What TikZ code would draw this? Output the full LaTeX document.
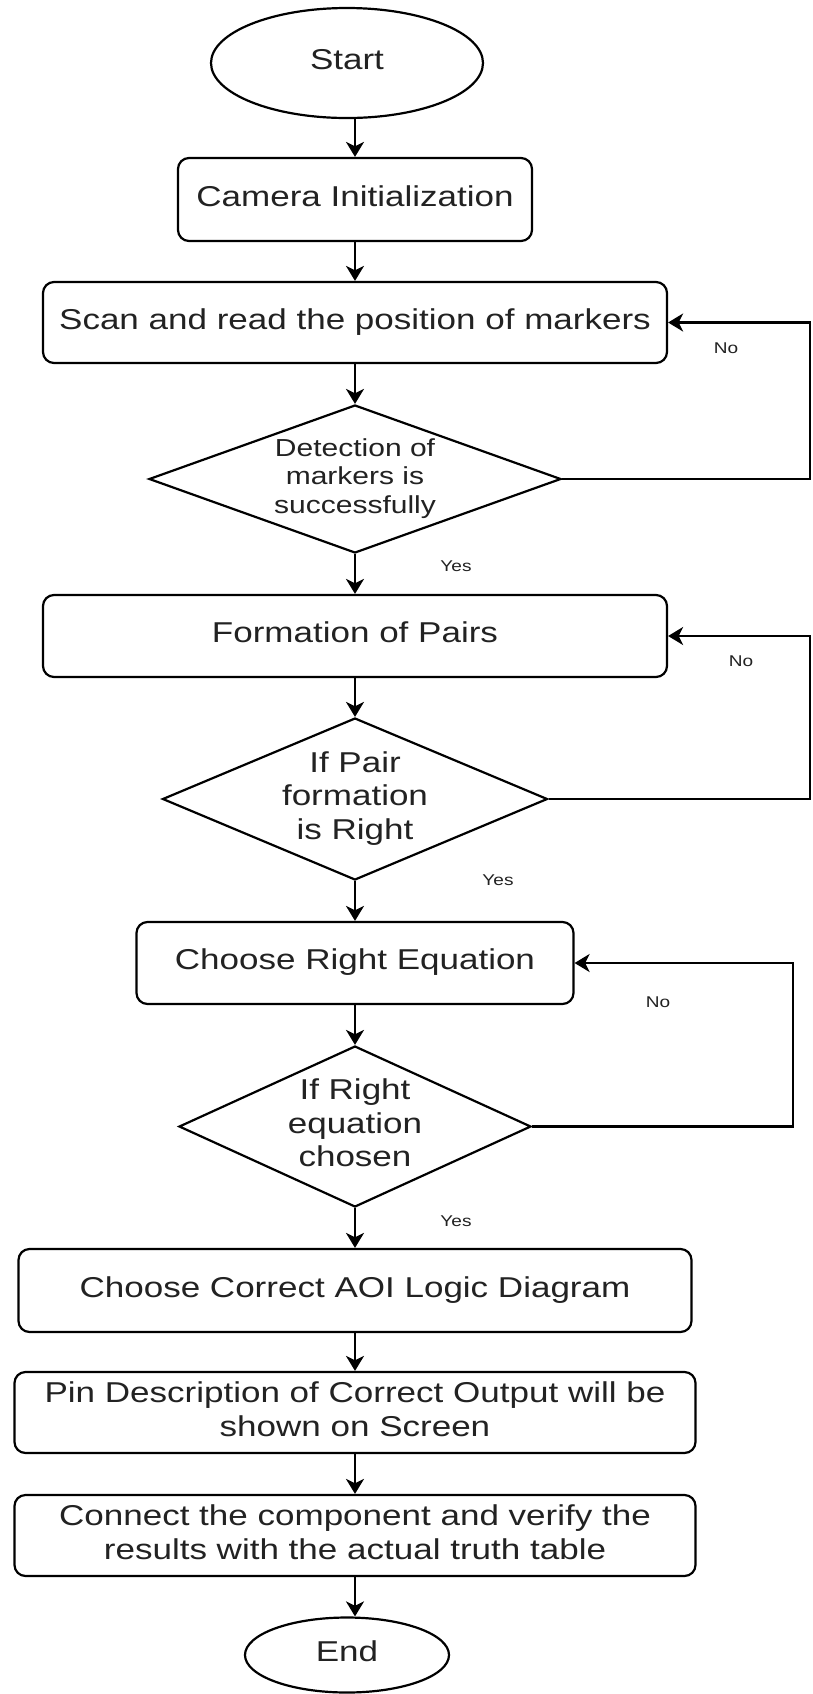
\documentclass[tikz,border=0pt]{standalone}
\usepackage{fontspec}
\setmainfont{Liberation Sans}
\usepackage{graphicx}
\usetikzlibrary{shapes.geometric,arrows.meta}

\definecolor{ink}{RGB}{34,34,34}

% text is set slightly widened, as in the flowchart's own drawing
\newcommand{\wtext}[1]{\scalebox{1.22}[1]{\begin{tabular}{@{}c@{}}#1\end{tabular}}}

\begin{document}
\begin{tikzpicture}[x=0.5pt,y=-0.5pt,
  line width=1.1pt,
  base/.style={draw=black, line width=1.1pt, inner sep=0pt, text=ink},
  bigfont/.style={font=\fontsize{14.35}{17}\selectfont},
  term/.style 2 args={base, bigfont, ellipse, minimum width=#1, minimum height=#2},
  procbox/.style 2 args={base, bigfont, rectangle, rounded corners=5.5pt,
    minimum width=#1, minimum height=#2},
  decision/.style 2 args={base, diamond, minimum width=#1, minimum height=#2},
  dtext/.style={inner sep=0pt, text=ink},
  lbl/.style={inner sep=0pt, text=ink, font=\fontsize{7.8}{9}\selectfont},
  arr/.style={draw=black, line width=1.1pt,
    -{Stealth[length=7.5pt, width=9pt, inset=2.2pt]}}
]
\fill[white] (0,0) rectangle (813,1694);
\useasboundingbox (0,0) rectangle (813,1694);

% main column
\node[term={136pt}{55pt}] (start) at (347,63) {\wtext{Start}};
\node[procbox={177pt}{41.5pt}] (cam) at (355,199.5) {\wtext{Camera Initialization}};
\node[procbox={312pt}{40.5pt}] (scan) at (355,322.5) {\wtext{Scan and read the position of markers}};
\node[decision={206pt}{74pt}] (d1) at (355,479) {};
\node[dtext, font=\fontsize{12.3}{14.25}\selectfont] (d1t) at (d1) {\wtext{Detection of\\markers is\\successfully}};
\node[procbox={312pt}{41pt}] (pairs) at (355,636) {\wtext{Formation of Pairs}};
\node[decision={192.5pt}{81pt}] (d2) at (355,799) {};
\node[dtext, font=\fontsize{14.35}{16.75}\selectfont] (d2t) at (d2) {\wtext{If Pair\\formation\\is Right}};
\node[procbox={218.5pt}{41pt}] (eq) at (355,963) {\wtext{Choose Right Equation}};
\node[decision={176pt}{80.5pt}] (d3) at (355,1126.5) {};
\node[dtext, font=\fontsize{14.35}{16.75}\selectfont] (d3t) at (d3) {\wtext{If Right\\equation\\chosen}};
\node[procbox={336.5pt}{41.5pt}] (aoi) at (355,1290.5) {\wtext{Choose Correct AOI Logic Diagram}};
\node[procbox={340.5pt}{40.5pt}] (pin) at (355,1412.5) {\wtext{Pin Description of Correct Output will be\\shown on Screen}};
\node[procbox={340.5pt}{40.5pt}] (conn) at (355,1535.5) {\wtext{Connect the component and verify the\\results with the actual truth table}};
\node[term={102pt}{37.5pt}] (end) at (347,1655) {\wtext{End}};

% forward flow
\draw[arr] (start.south -| cam.north) -- (cam.north);
\draw[arr] (cam) -- (scan);
\draw[arr] (scan) -- (d1);
\draw[arr] (d1) -- (pairs);
\draw[arr] (pairs) -- (d2);
\draw[arr] (d2) -- (eq);
\draw[arr] (eq) -- (d3);
\draw[arr] (d3) -- (aoi);
\draw[arr] (aoi) -- (pin);
\draw[arr] (pin) -- (conn);
\draw[arr] (conn.south) -- (end.north -| conn.south);

% loops back on "No"
\coordinate (r1) at (810,479);
\coordinate (r2) at (810,799);
\coordinate (r3) at (793,1126.5);
\draw[arr] (d1.east) -- (r1) |- (scan.east);
\draw[arr] (d2.east) -- (r2) |- (pairs.east);
\draw[arr] (d3.east) -- (r3) |- (eq.east);

% branch labels
\node[lbl] (no1) at (726,350) {\wtext{No}};
\node[lbl] (yes1) at (456,568) {\wtext{Yes}};
\node[lbl] (no2) at (741,663) {\wtext{No}};
\node[lbl] (yes2) at (498,882) {\wtext{Yes}};
\node[lbl] (no3) at (658,1004) {\wtext{No}};
\node[lbl] (yes3) at (456,1223) {\wtext{Yes}};
\end{tikzpicture}
\end{document}
